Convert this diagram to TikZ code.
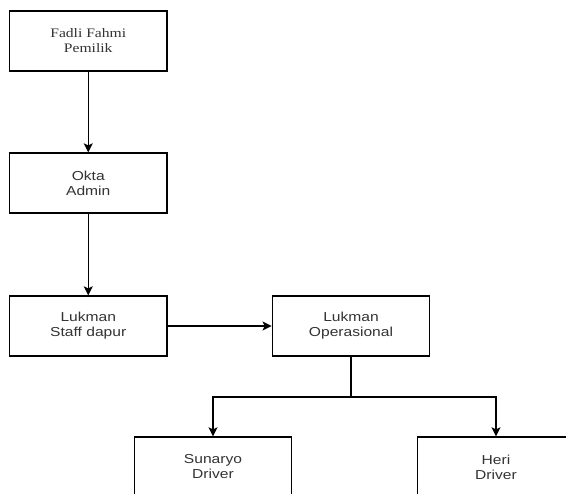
\documentclass[tikz,border=0pt]{standalone}
\usepackage{fontspec}
\usetikzlibrary{arrows.meta}
\newfontfamily\labelsans[FakeStretch=1.2]{Liberation Sans}
\newfontfamily\labelserif[FakeStretch=1.2]{Liberation Serif}
\definecolor{labelgray}{HTML}{333333}
\tikzset{
  unitbox/.style={draw=black, line width=1.3pt, fill=white,
    minimum width=157.5pt, minimum height=60pt, inner sep=0pt,
    align=center, text=labelgray,
    font=\labelsans\fontsize{13pt}{15pt}\selectfont},
  serifbox/.style={unitbox, font=\labelserif\fontsize{13pt}{15pt}\selectfont},
  link/.style={draw=black, line width=1.3pt,
    -{Stealth[length=9pt,width=9pt,inset=2pt]}},
  plainlink/.style={draw=black, line width=1.3pt}
}
\begin{document}
\begin{tikzpicture}[x=1pt,y=1pt]
  \useasboundingbox (0,0) rectangle (566,-494);
  \fill[white] (0,0) rectangle (566,-494);
  \clip (0,0) rectangle (566,-494);

  % positions
  \node[serifbox] (owner) at (88.25,-41)  {Fadli Fahmi\\Pemilik};
  \node[unitbox]  (admin) at (88.25,-183) {Okta\\Admin};
  \node[unitbox]  (kitchen) at (88.25,-326) {Lukman\\Staff dapur};
  \node[unitbox]  (ops) at (351,-326) {Lukman\\Operasional};
  \node[unitbox]  (drvA) at (213,-467) {Sunaryo\\Driver};
  \node[unitbox]  (drvB) at (496,-467) {Heri\\Driver};
  \coordinate (fork) at (351,-397);

  % connectors
  \draw[link] (owner.south) -- (admin.north);
  \draw[link] (admin.south) -- (kitchen.north);
  \draw[link] (kitchen.east) -- (ops.west);
  \draw[plainlink] (ops.south) -- (fork);
  \draw[link] (fork) -| (drvA.north);
  \draw[link] (fork) -| (drvB.north);
\end{tikzpicture}
\end{document}
